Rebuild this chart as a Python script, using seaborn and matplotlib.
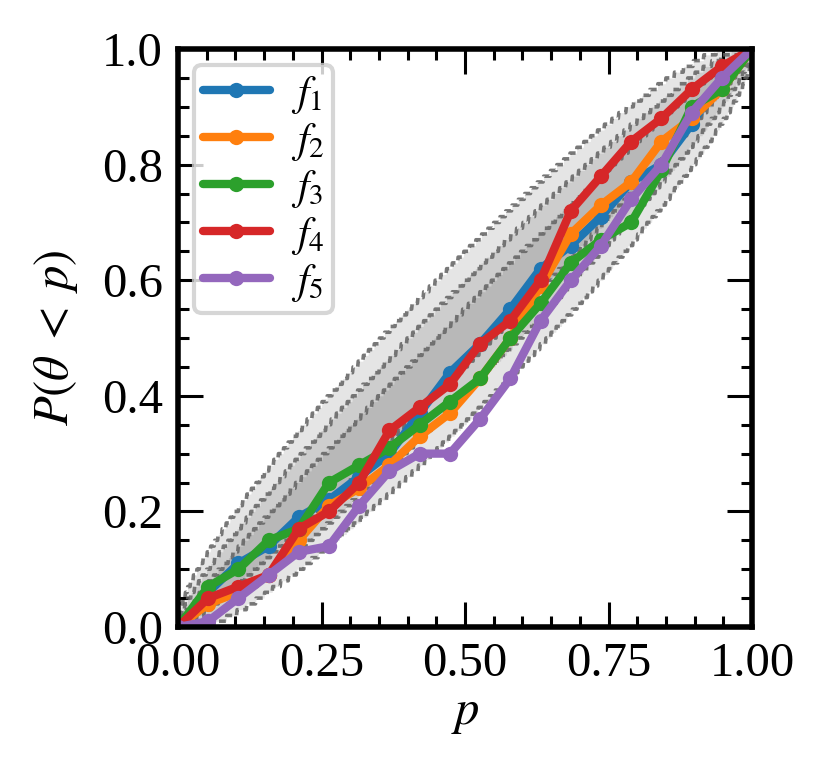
import numpy as np
import pandas as pd
import math
import matplotlib
matplotlib.use('Agg')
import matplotlib.pyplot as plt
import seaborn as sns

# credible levels (x) shared by all runs
p_levels = [i / 19 for i in range(20)]

f1 = [0.00, 0.06, 0.11, 0.14, 0.19, 0.22, 0.26, 0.30, 0.37, 0.44,
      0.49, 0.55, 0.62, 0.66, 0.71, 0.77, 0.80, 0.87, 0.95, 1.00]
f2 = [0.00, 0.04, 0.06, 0.09, 0.15, 0.21, 0.24, 0.28, 0.33, 0.37,
      0.43, 0.50, 0.59, 0.68, 0.73, 0.77, 0.84, 0.88, 0.93, 1.00]
f3 = [0.00, 0.07, 0.10, 0.15, 0.17, 0.25, 0.28, 0.31, 0.35, 0.39,
      0.43, 0.50, 0.56, 0.63, 0.67, 0.70, 0.79, 0.90, 0.93, 1.00]
f4 = [0.00, 0.05, 0.07, 0.09, 0.17, 0.20, 0.25, 0.34, 0.38, 0.42,
      0.49, 0.53, 0.60, 0.72, 0.78, 0.84, 0.88, 0.93, 0.97, 1.00]
f5 = [0.00, 0.01, 0.05, 0.09, 0.13, 0.14, 0.21, 0.27, 0.30, 0.30,
      0.36, 0.43, 0.53, 0.60, 0.66, 0.74, 0.80, 0.89, 0.95, 1.00]
series_names = ['$f_1$', '$f_2$', '$f_3$', '$f_4$', '$f_5$']

# binomial confidence bands
n_samples = 100
conf_levels = [0.68, 0.95, 0.997]


def binom_ppf(q, n, p):
    p = np.clip(p, 1e-12, 1 - 1e-12)
    k = np.arange(n + 1)
    logc = np.array([math.lgamma(n + 1) - math.lgamma(j + 1) - math.lgamma(n - j + 1) for j in k])
    logpmf = logc[None, :] + k[None, :] * np.log(p)[:, None] + (n - k)[None, :] * np.log(1 - p)[:, None]
    cdf = np.cumsum(np.exp(logpmf), axis=1)
    return np.argmax(cdf >= q - 1e-10, axis=1).astype(float)


sns.set_style('ticks')
plt.rcParams['font.family'] = ['Liberation Serif', 'DejaVu Serif']
plt.rcParams['mathtext.fontset'] = 'stix'
plt.rcParams['text.color'] = 'k'
plt.rcParams['axes.labelcolor'] = 'k'
plt.rcParams['xtick.color'] = 'k'
plt.rcParams['ytick.color'] = 'k'

fig = plt.figure(figsize=(8.31, 7.82), dpi=100)
ax = fig.add_axes([0.2142, 0.1982, 0.6908, 0.7391])

xg = np.linspace(0, 1, 1001)
for ci in conf_levels:
    edge = (1 - ci) / 2
    hi = binom_ppf(1 - edge, n_samples, xg) / n_samples
    lo = binom_ppf(edge, n_samples, xg) / n_samples
    hi[0] = 0
    lo[0] = 0
    ax.fill_between(xg, lo, hi, color='k', alpha=0.1, lw=0)
    for edge_line in (lo, hi):
        ax.plot(xg, edge_line, color='0.38', alpha=0.85, lw=2.6,
                linestyle=(0, (1.9, 1.3)))

colors = sns.color_palette('tab10', 5)
for vals, name, c in zip([f1, f2, f3, f4, f5], series_names, colors):
    df = pd.DataFrame({'p': p_levels, 'v': vals})
    sns.lineplot(data=df, x='p', y='v', ax=ax, color=c, lw=6, marker='o',
                 markersize=11, markeredgewidth=0, label=name)

ax.set_xlim(0, 1)
ax.set_ylim(0, 1)
ax.set_xticks([0, 0.25, 0.5, 0.75, 1.0])
ax.set_yticks([0, 0.2, 0.4, 0.6, 0.8, 1.0])
ax.xaxis.set_minor_locator(matplotlib.ticker.MultipleLocator(0.05))
ax.yaxis.set_minor_locator(matplotlib.ticker.MultipleLocator(0.05))
ax.xaxis.set_major_formatter(matplotlib.ticker.FormatStrFormatter('%.2f'))
ax.yaxis.set_major_formatter(matplotlib.ticker.FormatStrFormatter('%.1f'))
ax.tick_params(which='both', direction='in', top=True, right=True, width=2.2,
               labelsize=35, pad=11)
ax.tick_params(which='major', length=18)
ax.tick_params(which='minor', length=8)
for s in ax.spines.values():
    s.set_linewidth(4)
    s.set_color('k')

ax.set_xlabel('$p$', fontsize=35, labelpad=4)
ax.set_ylabel(r'$P(\theta\;<\;p)$', fontsize=35, labelpad=16)

leg = ax.legend(loc='upper left', fontsize=30, frameon=True, fancybox=True,
                framealpha=0.8, edgecolor='0.8', handlelength=1.6,
                handletextpad=0.5, borderaxespad=0.38, borderpad=0.22,
                labelspacing=0.12)
leg.get_frame().set_linewidth(3)

fig.savefig('out.png', dpi=100)
